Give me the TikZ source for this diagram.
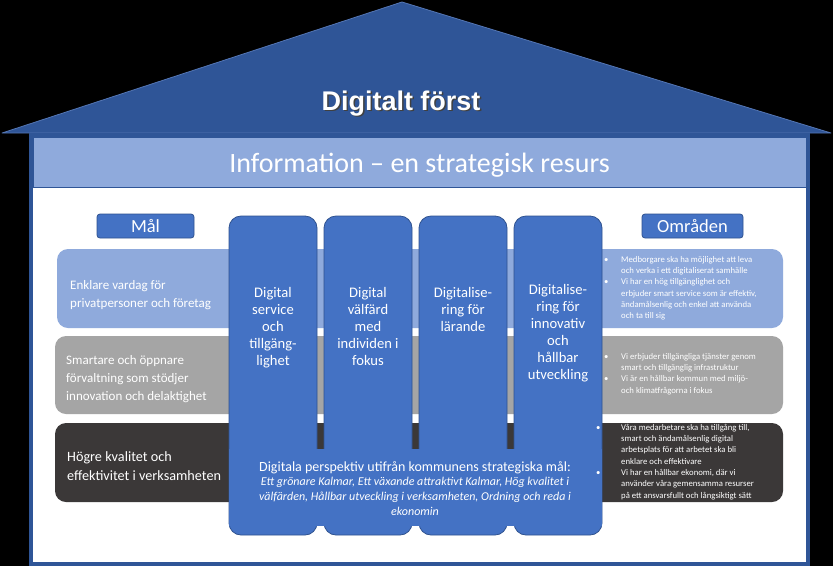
\documentclass[tikz,border=0pt]{standalone}
\usepackage{fontspec}
\setmainfont{Carlito}
\newfontfamily\roofont{Liberation Sans}
\usetikzlibrary{positioning}
\definecolor{roofblue}{RGB}{47,85,151}
\definecolor{roofedge}{RGB}{84,118,180}
\definecolor{pillarblue}{RGB}{68,114,196}
\definecolor{pillarline}{RGB}{47,82,143}
\definecolor{lightblue}{RGB}{143,170,220}
\definecolor{rowgray}{RGB}{165,165,165}
\definecolor{rowdark}{RGB}{59,56,56}
\newcommand{\bitem}[2][15pt]{\makebox[#1][l]{\textbullet}#2}
\newcommand{\bcont}[2][15pt]{\hspace*{#1}#2}
\tikzset{
    % Pillars
    pillar/.style={
        rectangle,
        draw=pillarline,
        line width=0.8pt,
        fill=pillarblue,
        rounded corners=12pt,
        minimum width=88pt,
        minimum height=319pt,
        inner sep=0pt
    },
    % Goal rows
    band/.style={
        rectangle,
        rounded corners=11pt,
        minimum height=79pt,
        inner sep=0pt
    },
    % Small headings
    tag/.style={
        rectangle,
        draw=pillarline,
        line width=0.8pt,
        fill=pillarblue,
        rounded corners=3pt,
        minimum height=24pt,
        inner sep=0pt,
        text=white,
        font=\fontsize{18.5}{20}\selectfont
    },
    % Texts
    ptext/.style={
        text=white,
        align=center,
        anchor=north,
        inner sep=0pt,
        font=\fontsize{14.6}{17}\selectfont
    },
    goaltext/.style={
        text=white,
        align=left,
        anchor=west,
        inner sep=0pt,
        font=\fontsize{13}{18}\selectfont
    },
    bullettext/.style={
        text=white,
        align=left,
        anchor=north west,
        inner sep=0pt,
        font=\fontsize{8.7}{11.3}\selectfont
    }
}

\begin{document}
\begin{tikzpicture}[x=1pt, y=-1pt]

    % Background
    \fill[black] (0,0) rectangle (833,566);
    \useasboundingbox (0,0) rectangle (833,566);

    % Roof
    \filldraw[fill=roofblue, draw=roofedge, line width=0.8pt, line join=round]
        (2,133) -- (402,2) -- (831,133) -- cycle;
    \node[text=black!75, font=\roofont\bfseries\fontsize{27}{30}\selectfont, anchor=base]
        (titleshadow) at (402.5,111.5) {Digitalt först};
    \node[text=white, font=\roofont\bfseries\fontsize{27}{30}\selectfont, anchor=base]
        (title) at (401,110) {Digitalt först};

    % Frame
    \filldraw[fill=white, draw=roofblue, line width=4pt] (31,135) rectangle (808,564);
    \node[rectangle, draw=roofblue, line width=1pt, fill=lightblue, minimum width=773pt,
        minimum height=50pt, inner sep=0pt] (header) at (419.5,162) {};
    \node[text=white, font=\fontsize{28}{32}\selectfont, anchor=base]
        (headertext) at (419.5,172) {Information -- en strategisk resurs};

    % Headings
    \node[tag, minimum width=97pt] (mal) at (145.5,226) {Mål};
    \node[tag, minimum width=101pt] (omraden) at (692.5,226) {Områden};

    % Rows
    \node[band, fill=lightblue, minimum width=726pt] (row1) at (420,288.5) {};
    \node[band, fill=rowgray, minimum width=728pt, minimum height=78pt] (row2) at (419,375) {};
    \node[band, fill=rowdark, minimum width=728pt] (row3) at (419,462.5) {};

    % Pillars
    \node[pillar] (p1) at (273,375.5) {};
    \node[pillar] (p2) at (368,375.5) {};
    \node[pillar] (p3) at (463,375.5) {};
    \node[pillar] (p4) at (558,375.5) {};
    \fill[pillarblue] (p1.west |- 0,449) ++(0.5,0) rectangle (601.5,526);

    % Pillar texts
    \node[ptext] (t1) at (273,287) {Digital\\service\\och\\tillgäng-\\lighet};
    \node[ptext] (t2) at (368,287) {Digital\\välfärd\\med\\individen i\\fokus};
    \node[ptext] (t3) at (463,287) {Digitalise-\\ring för\\lärande};
    \node[ptext] (t4) at (558,284) {Digitalise-\\ring för\\innovativ\\och\\hållbar\\utveckling};

    % Base text
    \node[text=white, align=center, anchor=north, inner sep=0pt, font=\fontsize{12}{14.8}\selectfont]
        (basetext) at (415,461) {{\fontsize{14}{14.8}\selectfont Digitala perspektiv utifrån kommunens strategiska mål:}\\
        \itshape Ett grönare Kalmar, Ett växande attraktivt Kalmar, Hög kvalitet i\\
        \itshape välfärden, Hållbar utveckling i verksamheten, Ordning och reda i\\
        \itshape ekonomin};

    % Goals
    \node[goaltext] (g1) at (70,295) {Enklare vardag för\\privatpersoner och företag};
    \node[goaltext] (g2) at (66,379) {Smartare och öppnare\\förvaltning som stödjer\\innovation och delaktighet};
    \node[goaltext, font=\fontsize{14.2}{19}\selectfont] (g3) at (67,466) {Högre kvalitet och\\effektivitet i verksamheten};

    % Areas
    \node[bullettext] (a1) at (604,256) {\bitem[17pt]{Medborgare ska ha möjlighet att leva}\\
        \bcont[17pt]{och verka i ett digitaliserat samhälle}\\
        \bitem[17pt]{Vi har en hög tillgänglighet och}\\
        \bcont[17pt]{erbjuder smart service som är effektiv,}\\
        \bcont[17pt]{ändamålsenlig och enkel att använda}\\
        \bcont[17pt]{och ta till sig}};
    \node[bullettext] (a2) at (604,353) {\bitem[17pt]{Vi erbjuder tillgängliga tjänster genom}\\
        \bcont[17pt]{smart och tillgänglig infrastruktur}\\
        \bitem[17pt]{Vi är en hållbar kommun med miljö-}\\
        \bcont[17pt]{och klimatfrågorna i fokus}};
    \node[bullettext] (a3) at (596,424) {\bitem[25pt]{Våra medarbetare ska ha tillgång till,}\\
        \bcont[25pt]{smart och ändamålsenlig digital}\\
        \bcont[25pt]{arbetsplats för att arbetet ska bli}\\
        \bcont[25pt]{enklare och effektivare}\\
        \bitem[25pt]{Vi har en hållbar ekonomi, där vi}\\
        \bcont[25pt]{använder våra gemensamma resurser}\\
        \bcont[25pt]{på ett ansvarsfullt och långsiktigt sätt}};

\end{tikzpicture}
\end{document}
